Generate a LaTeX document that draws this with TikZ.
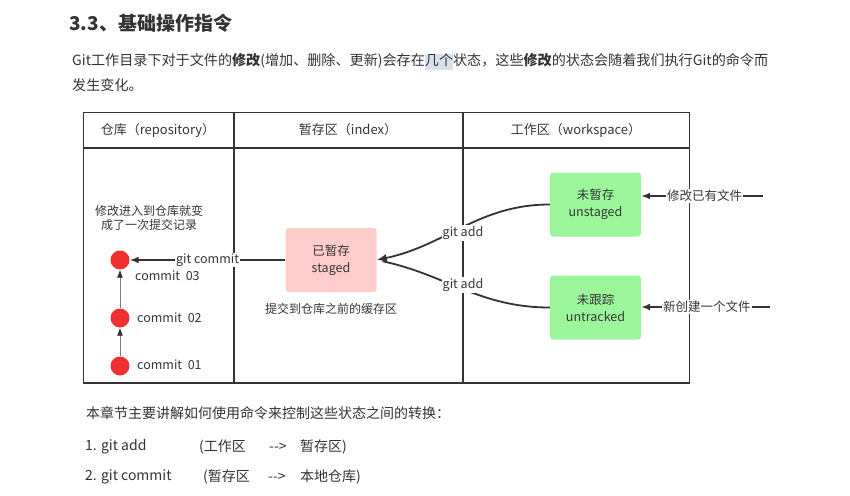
\documentclass[tikz,border=0pt]{standalone}
\usepackage{fontspec}
\setmainfont{Noto Sans CJK SC}
\usetikzlibrary{arrows.meta}
\definecolor{txt}{HTML}{333333}
\definecolor{dtxt}{HTML}{363636}
\definecolor{frame}{HTML}{333333}
\definecolor{hl}{HTML}{D8E2EC}
\definecolor{pinkbox}{HTML}{FFCCCC}
\definecolor{greenbox}{HTML}{9CF79C}
\definecolor{commitred}{HTML}{F03030}
\begin{document}
\begin{tikzpicture}[x=1pt,y=-1pt,
  plain/.style={inner sep=0pt,text=txt},
  dlabel/.style={inner sep=0pt,text=dtxt,font=\fontsize{12}{14}\selectfont},
  hdr/.style={inner sep=0pt,text=dtxt,font=\fontsize{13}{15}\selectfont},
  statebox/.style={rounded corners=3pt,draw=none,minimum width=91pt,minimum height=64pt,align=center,text=dtxt,font=\fontsize{12.5}{17}\selectfont},
  dot/.style={circle,fill=commitred,draw=none,minimum size=19pt,inner sep=0pt},
  conn/.style={draw=frame,line width=1.6pt,-{Latex[length=9pt,width=7pt]}},
  conncurve/.style={draw=frame,line width=1.8pt},
  gline/.style={draw=gray,line width=0.9pt,-{Latex[length=8pt,width=6pt,color=black!80]}},
  onlabel/.style={fill=white,inner sep=1pt,text=dtxt,font=\fontsize{12.5}{14}\selectfont},
  grid/.style={draw=frame,line width=1.8pt}
]
\useasboundingbox (0,0) rectangle (850,495);
\fill[white] (0,0) rectangle (850,495);

% title and paragraph
\node[plain,anchor=west,font=\fontsize{19}{22}\selectfont\bfseries] (title) at (69,23) {3.3、基础操作指令};
\node[plain,anchor=west,font=\fontsize{14.1}{16}\selectfont] (p1) at (72,62)
  {Git工作目录下对于文件的\textbf{修改}(增加、删除、更新)会存在{\setlength\fboxsep{0pt}\colorbox{hl}{\strut 几个}}状态，这些\textbf{修改}的状态会随着我们执行Git的命令而};
\node[plain,anchor=west,font=\fontsize{14.1}{16}\selectfont] (p2) at (72,85) {发生变化。};

% table
\draw[grid] (83.5,112.5) rectangle (689.5,383);
\draw[grid] (83.5,148) -- (689.5,148);
\draw[grid] (234,112.5) -- (234,383);
\draw[grid] (463,112.5) -- (463,383);
\node[hdr] (h1) at (158,130) {仓库（repository）};
\node[hdr] (h2) at (348,130) {暂存区（index）};
\node[hdr] (h3) at (576,130) {工作区（workspace）};

% repository column
\node[dlabel,align=center] (note) at (149,217.5) {修改进入到仓库就变\\成了一次提交记录};
\node[dot] (c3) at (120,260) {};
\node[dot] (c2) at (120,318) {};
\node[dot] (c1) at (120,366) {};
\draw[gline] (c1) -- (c2);
\draw[gline] (c2) -- (c3);
\node[dlabel,anchor=west,font=\fontsize{12.5}{14}\selectfont] (l3) at (135,276) {commit\hspace{0.45em}03};
\node[dlabel,anchor=west,font=\fontsize{12.5}{14}\selectfont] (l2) at (137,318) {commit\hspace{0.45em}02};
\node[dlabel,anchor=west,font=\fontsize{12.5}{14}\selectfont] (l1) at (137,365) {commit\hspace{0.45em}01};

% index column
\node[statebox,fill=pinkbox] (staged) at (331,260) {已暂存\\staged};
\node[dlabel] (cache) at (331,309) {提交到仓库之前的缓存区};
\draw[conn] (staged.west) -- node[onlabel,pos=0.5] {git commit} (c3.east);

% workspace column
\node[statebox,fill=greenbox] (unstaged) at (595.5,204.5) {未暂存\\unstaged};
\node[statebox,fill=greenbox] (untracked) at (595.5,307.5) {未跟踪\\untracked};
\draw[conncurve,shorten >=6pt] (untracked.west) to[out=180,in=-12] (staged.east);
\draw[conncurve,-{Latex[length=10pt,width=8pt]}] (unstaged.west) to[out=180,in=12] (staged.east);
\node[onlabel] (ga1) at (463,233) {git add};
\node[onlabel] (ga2) at (463,285) {git add};

\coordinate (s1) at (763,196);
\coordinate (s2) at (770,307);
\draw[conn] (s1) -- node[onlabel,pos=0.48] {修改已有文件} (unstaged.east |- s1);
\draw[conn] (s2) -- node[onlabel,pos=0.49] {新创建一个文件} (untracked.east |- s2);

% bottom text
\node[plain,anchor=west,font=\fontsize{14}{16}\selectfont] (b0) at (86,413) {本章节主要讲解如何使用命令来控制这些状态之间的转换：};
\node[plain,anchor=west,font=\fontsize{14}{16}\selectfont] (b1) at (85,447) {1. git add};
\node[plain,anchor=west,font=\fontsize{14}{16}\selectfont] (b1a) at (199,447) {(工作区};
\node[plain,anchor=west,font=\fontsize{14}{16}\selectfont] (b1b) at (269,447) {-{}->};
\node[plain,anchor=west,font=\fontsize{14}{16}\selectfont] (b1c) at (300,447) {暂存区)};
\node[plain,anchor=west,font=\fontsize{14}{16}\selectfont] (b2) at (85,477) {2. git commit};
\node[plain,anchor=west,font=\fontsize{14}{16}\selectfont] (b2a) at (203,477) {(暂存区};
\node[plain,anchor=west,font=\fontsize{14}{16}\selectfont] (b2b) at (268,477) {-{}->};
\node[plain,anchor=west,font=\fontsize{14}{16}\selectfont] (b2c) at (300,477) {本地仓库)};
\end{tikzpicture}
\end{document}
